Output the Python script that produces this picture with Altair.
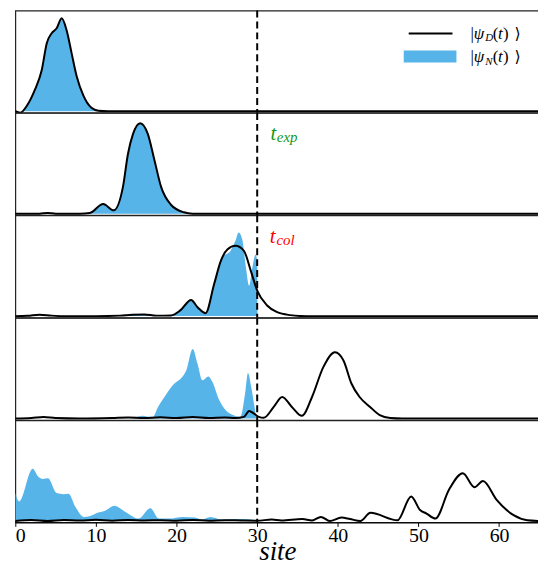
import altair as alt
import pandas as pd

# ---------------- data ----------------
# panel 1
P1_D_x = [0, 0.6, 1.43, 2.42, 3.28, 3.9, 4.51, 5.13, 5.75, 6.36, 6.98, 7.6, 8.46, 9.44, 10.3, 11.5, 65]
P1_D_y = [0, -1.5, 5.5, 21.5, 41.5, 68.5, 78.5, 83.5, 93.5, 81.5, 58.5, 35.5, 15.5, 3.5, 0.5, 0, 0]
P1_N_x = [0, 0.8, 1.43, 2.42, 3.28, 3.9, 4.51, 5.13, 5.75, 6.36, 6.98, 7.6, 8.46, 9.44, 10.3, 11.5, 65]
P1_N_y = [0, 0, 5.5, 21.5, 41.5, 68.5, 78.5, 83.5, 93.5, 81.5, 58.5, 35.5, 15.5, 3.5, 0.5, 0, 0]
# panel 2
P2_D_x = [0, 3, 4, 5, 8, 9.24, 10.89, 12.2, 13.35, 13.97, 14.59, 15.49, 16.44, 17.25, 18.08, 19.3, 20.9, 22, 65]
P2_D_y = [0, 0, 0.8, 0, 0, 0.7, 9.7, 3.4, 27, 60, 80, 91, 80, 54, 27, 9, 1.4, 0, 0]
P2_N_x = P2_D_x
P2_N_y = P2_D_y
# panel 3
P3_D_x = [0, 1.5, 3, 4.5, 6, 10, 13, 14.5, 16, 17.5, 19.3, 20.5, 21.8, 22.6, 23.6, 24.65, 25.5, 26.3,
          27.3, 28.35, 29.2, 30.0, 31.23, 32.47, 34.1, 35.3, 37, 65]
P3_D_y = [0, 0.3, 1.5, 0.5, 0, 0, 0.5, 1.5, 1.7, 0.5, 0.7, 6, 16.3, 9, 3, 32, 55.7, 67,
          70.7, 65.7, 45.7, 25.7, 10.7, 4, 1, 0.2, 0, 0]
P3_N_x = [0, 13, 14.5, 16, 17.5, 19.3, 20.5, 21.8, 22.6, 23.6, 24.65, 25.7, 26.7, 27.3, 27.7, 28.15,
          28.6, 29.0, 29.4, 29.8, 30.0, 30.05, 65]
P3_N_y = [0, 0, 1.5, 1.7, 0.5, 0.7, 6, 16.3, 9, 3, 32, 59, 65.7, 75.7, 84, 77,
          49, 30.7, 49, 62, 55, 0, 0]
# panel 4
P4_D_x = [0, 2, 3.5, 5, 8, 12, 14, 16, 18, 20, 22, 24, 26, 27.3, 28.35, 29.0, 29.6, 30.2, 30.8, 32.05,
          33.1, 34.3, 35.55, 36.8, 38.2, 39.65, 40.7, 41.7, 42.7, 44.0, 45.2, 46.5, 48, 65]
P4_D_y = [0, 0.5, 1.5, 0.5, 0, 0.5, 1, 0.5, 1.2, 0.5, 1.5, 0.5, 1, 0.5, 1.7, 7.7, 5, 1.7, 0.7, 11.7,
          21.7, 11.7, 2.7, 21.7, 51.7, 66.7, 58.4, 35, 21.7, 11.7, 3.4, 0.5, 0, 0]
P4_N_x = [0, 14.5, 15.2, 15.8, 16.5, 17.05, 17.7, 18.5, 19.7, 20.5, 21.2, 22.0, 22.6, 23.2, 23.95,
          24.45, 25.3, 26.1, 27.1, 27.9, 28.55, 28.85, 29.26, 29.67, 29.95, 65]
P4_N_y = [0, 0, 1.7, 2.7, 1.7, 1.7, 11.7, 21.7, 35, 40, 48.4, 70, 55, 38.4, 42.4,
          36.7, 18.4, 8.4, 3.4, 1.7, 28.4, 45.7, 31.7, 11.7, 0, 0]
# panel 5
P5_D_x = [0, 2, 4, 6, 8, 10, 12, 14, 16, 18, 20, 22, 24, 26, 28, 30, 31.8, 33, 35.6, 36.8, 37.9, 39.0,
          40.45, 41.5, 42.8, 44.05, 47.4, 49.1, 50.2, 51.0, 52.1, 53.8, 55.5, 56.95, 58.0, 59.7, 61.8,
          63.5, 65]
P5_D_y = [0, 1, 0, 1, 0.5, 1.2, 0.3, 1, 0.5, 0.8, 0.3, 1, 0.3, 0.8, 0.5, 0.3, 1.4, 0.5, 2, 0.5, 4.1, 0,
          3.4, 2, 0, 8.2, 0.7, 24.7, 11, 7.5, 2.4, 31.6, 48, 34, 40.2, 21.3, 5.8,
          0.7, 0]
P5_N_x = [0, 0.47, 2.16, 2.8, 3.43, 4.06, 5.1, 6.0, 6.6, 7.45, 8.5, 9.3, 10.2, 11.05, 12.3, 13.6, 15.3,
          16.75, 17.8, 19.1, 20.8, 22.3, 23.1, 24.2, 25.6, 28, 29.9, 30, 65]
P5_N_y = [28.1, 19.6, 52.5, 45, 42.2, 42.9, 28.1, 27, 27.5, 14.4, 4.1, 5, 8.2, 10, 15.4, 9.3, 2.4,
          12.7, 2.4, 2.4, 4.1, 3.4, 1.4, 4.1, 1.4, 2, 0.7, 0, 0]

D_SERIES = [(P1_D_x, P1_D_y), (P2_D_x, P2_D_y), (P3_D_x, P3_D_y), (P4_D_x, P4_D_y), (P5_D_x, P5_D_y)]
N_SERIES = [(P1_N_x, P1_N_y), (P2_N_x, P2_N_y), (P3_N_x, P3_N_y), (P4_N_x, P4_N_y), (P5_N_x, P5_N_y)]

X_TICKS = [0, 10, 20, 30, 40, 50, 60]
T_MARK = 30

BLUE = "#56b4e9"
SERIF = "Liberation Serif"
W = 527
H = 102.7

xscale = alt.Scale(domain=[0, 65], nice=False, zero=False)
yscale = alt.Scale(domain=[-1.4, 101.3], nice=False, zero=False)
ONE = pd.DataFrame({"a": [0]})


def txt(s, x, y, size, color="black", style="italic", font=SERIF):
    return alt.Chart(ONE).mark_text(
        text=s, align="left", baseline="alphabetic", font=font,
        fontSize=size, fontStyle=style, color=color
    ).encode(x=alt.value(x), y=alt.value(y))


panels = []
for i in range(5):
    dx, dy = D_SERIES[i]
    nx, ny = N_SERIES[i]
    dD = pd.DataFrame({"x": dx, "y": dy})
    dN = pd.DataFrame({"x": nx, "y": ny})
    if i == 4:
        xaxis = alt.Axis(values=X_TICKS, title="site", grid=False, labelFont=SERIF,
                         labelFontSize=20, labelColor="black", tickColor="black",
                         domainColor="black", tickSize=4, labelPadding=15,
                         labelBaseline="alphabetic",
                         titleFont=SERIF, titleFontSize=27, titleFontStyle="italic",
                         titleFontWeight="normal", titleColor="black",
                         titleBaseline="alphabetic", titleY=37)
    else:
        xaxis = None
    area = alt.Chart(dN).mark_area(color=BLUE, interpolate="monotone", clip=True).encode(
        x=alt.X("x:Q", scale=xscale, axis=xaxis),
        y=alt.Y("y:Q", scale=yscale, axis=None),
    )
    line = alt.Chart(dD).mark_line(color="black", strokeWidth=2, interpolate="monotone", clip=True).encode(
        x=alt.X("x:Q", scale=xscale),
        y=alt.Y("y:Q", scale=yscale),
    )
    rule = alt.Chart(pd.DataFrame({"x": [T_MARK]})).mark_rule(
        color="black", strokeWidth=2, strokeDash=[7, 4]
    ).encode(x=alt.X("x:Q", scale=xscale))
    layers = [area, line, rule]
    if i == 0:
        layers += [
            alt.Chart(ONE).mark_rule(color="black", strokeWidth=2).encode(
                x=alt.value(395.6), x2=alt.value(439.6), y=alt.value(23)),
            alt.Chart(ONE).mark_rect(color=BLUE).encode(
                x=alt.value(390.6), x2=alt.value(443.6), y=alt.value(40.3), y2=alt.value(52.3)),
        ]
        for (yb, sub) in [(28.4, "D"), (51.8, "N")]:
            layers += [
                txt("|", 457.6, yb, 17, style="normal"),
                txt("ψ", 461.0, yb, 17),
                txt(sub, 472.5, yb + 2.5, 11),
                txt("(", 480.0, yb, 17, style="normal"),
                txt("t", 485.5, yb, 17),
                txt(")", 490.5, yb, 17, style="normal"),
                txt("⟩", 502.0, yb, 16, style="normal", font="DejaVu Serif"),
            ]
    if i == 1:
        layers += [txt("t", 256.6, 27, 21, color="#119911"),
                   txt("exp", 263.0, 29.6, 15, color="#119911")]
    if i == 2:
        layers += [txt("t", 255.9, 27.6, 21, color="red"),
                   txt("col", 262.6, 29.9, 15, color="red")]
    panels.append(alt.layer(*layers).properties(width=W, height=H))

chart = alt.vconcat(*panels, spacing=0, bounds="flush").properties(
    padding={"left": 13.4, "top": 7, "right": -2.4, "bottom": 2},
    background="white",
).configure_view(stroke="#222222", strokeWidth=1.2).configure_concat(spacing=0)

chart.save("out.html", embed_options={"renderer": "svg", "actions": False})
